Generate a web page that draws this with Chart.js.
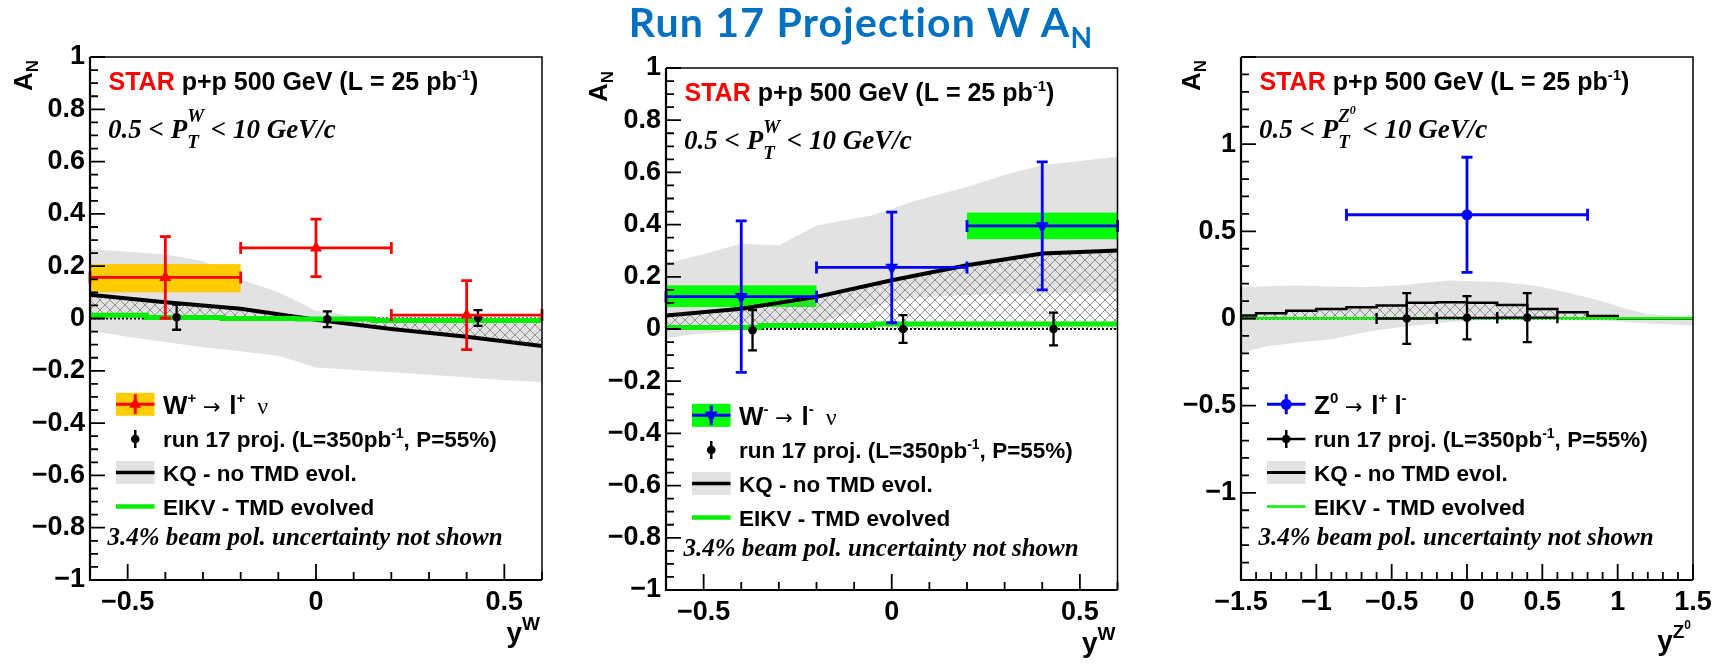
<!DOCTYPE html>
<html>
<head>
<meta charset="utf-8">
<script src="https://cdn.jsdelivr.net/npm/chart.js@4.4.1/dist/chart.umd.min.js"></script>
<style>
html,body{margin:0;padding:0;background:#fff;width:1722px;height:668px;overflow:hidden;}
#title{position:absolute;left:0;top:-1px;width:1722px;text-align:center;font-family:Lato,"Open Sans",sans-serif;font-weight:bold;font-size:41px;letter-spacing:1.2px;line-height:46px;color:#0070C0;z-index:5;}
#title sub{font-size:28px;vertical-align:-11px;line-height:0;}
.pan{position:absolute;top:0;height:668px;}
</style>
</head>
<body>
<div id="title">Run 17 Projection W A<sub>N</sub></div>
<div class="pan" style="left:0;width:575px"><canvas id="c1"></canvas></div>
<div class="pan" style="left:575px;width:575px"><canvas id="c2"></canvas></div>
<div class="pan" style="left:1150px;width:572px"><canvas id="c3"></canvas></div>
<script>
// ================= DATA =================
// ---- Panel 1 : W+ ----
const wpX = [-0.4, 0.0, 0.4];
const wpY = [0.157, 0.27, 0.013];
const wpXErr = [0.2, 0.2, 0.2];
const wpYErr = [0.156, 0.11, 0.132];
const wpSysLo = [0.100, null, null];
const wpSysHi = [0.208, null, null];
const proj1X = [-0.37, 0.03, 0.43];
const proj1Y = [0.005, -0.003, 0.002];
const proj1YErr = [0.048, 0.03, 0.03];
const kq1X = [-0.6, -0.4, -0.2, 0.0, 0.2, 0.4, 0.6];
const kq1Y = [0.091, 0.062, 0.037, -0.005, -0.04, -0.07, -0.105];
const band1X = [-0.6, -0.5, -0.4, -0.3, -0.2, -0.1, 0.0, 0.1, 0.2, 0.3, 0.4, 0.5, 0.6];
const band1Hi = [0.266, 0.255, 0.245, 0.22, 0.15, 0.10, 0.03, 0.01, 0.008, 0.005, 0.004, 0.002, 0.0];
const band1Lo = [-0.047, -0.07, -0.09, -0.11, -0.125, -0.142, -0.187, -0.197, -0.206, -0.215, -0.225, -0.235, -0.244];
const eikv1X = [-0.6, -0.45, -0.25, -0.05, 0.15, 0.25, 0.6];
const eikv1Y = [0.02, 0.012, 0.004, 0.0, -0.002, -0.008, -0.008];

// ---- Panel 2 : W- ----
const wmX = [-0.4, 0.0, 0.4];
const wmY = [0.124, 0.236, 0.395];
const wmXErr = [0.2, 0.2, 0.2];
const wmYErr = [0.29, 0.212, 0.245];
const wmSysLo = [0.084, null, 0.344];
const wmSysHi = [0.167, null, 0.446];
const proj2X = [-0.37, 0.03, 0.43];
const proj2Y = [-0.005, 0.0, 0.0];
const proj2YErr = [0.077, 0.053, 0.063];
const kq2X = [-0.6, -0.4, -0.2, 0.0, 0.2, 0.4, 0.6];
const kq2Y = [0.052, 0.078, 0.123, 0.187, 0.244, 0.289, 0.301];
const band2X = [-0.6, -0.53, -0.4, -0.3, -0.2, -0.05, 0.06, 0.2, 0.31, 0.4, 0.6];
const band2Hi = [0.25, 0.276, 0.327, 0.32, 0.397, 0.436, 0.49, 0.544, 0.595, 0.627, 0.66];
const band2Lo = [-0.035, -0.02, -0.008, 0.0, 0.02, 0.09, 0.12, 0.13, 0.135, 0.137, 0.14];
const eikv2X = [-0.6, -0.35, -0.05, 0.25, 0.6];
const eikv2Y = [0.0, 0.006, 0.013, 0.019, 0.019];

// ---- Panel 3 : Z0 ----
const zX = [0.0];
const zY = [0.595];
const zXErr = [0.8];
const zYErr = [0.33];
const proj3X = [-0.4, 0.0, 0.4];
const proj3Y = [0.0, 0.004, 0.005];
const proj3XErr = [0.2, 0.2, 0.2];
const proj3YErr = [0.145, 0.124, 0.14];
const kq3X = [-1.5, -1.4, -1.2, -1.0, -0.8, -0.6, -0.4, -0.2, 0.0, 0.2, 0.4, 0.6, 0.8, 1.0, 1.2, 1.5];
const kq3Y = [0.0, 0.017, 0.03, 0.045, 0.055, 0.065, 0.075, 0.09, 0.093, 0.09, 0.078, 0.055, 0.036, 0.015, 0.0, 0.0];
const band3X = [-1.5, -1.34, -1.11, -0.89, -0.67, -0.45, -0.12, 0.22, 0.44, 0.66, 0.88, 1.05, 1.2, 1.5];
const band3Hi = [0.18, 0.185, 0.19, 0.182, 0.18, 0.19, 0.218, 0.21, 0.19, 0.15, 0.103, 0.057, 0.025, 0.012];
const band3Lo = [-0.2, -0.16, -0.136, -0.117, -0.078, -0.05, -0.02, -0.005, -0.003, -0.003, -0.01, -0.02, -0.028, -0.04];
const eikv3X = [-1.5, 1.5];
const eikv3Y = [0.002, 0.002];

// ---- axes ----
const wRange = [-0.6, 0.6];
const zRange = [-1.5, 1.5];

// ================= STYLE =================
const RED = '#ff0000', BLUE = '#0000ff', GREEN = '#00ee00', BOXGREEN = '#00ff00', YEL = '#ffcc00', GRAY = '#e2e2e2';
const LF = '"Liberation Sans", Arial, sans-serif';
const SF = '"Liberation Serif", "Times New Roman", serif';

function pts(xs, ys) { return xs.map((x, i) => ({x: x, y: ys[i]})); }

function makeHatch() {
  const c = document.createElement('canvas'); c.width = 10; c.height = 10;
  const g = c.getContext('2d');
  g.strokeStyle = '#909090'; g.lineWidth = 1;
  g.beginPath();
  g.moveTo(0, 0); g.lineTo(10, 10);
  g.moveTo(10, 0); g.lineTo(0, 10);
  g.stroke();
  return g.createPattern(c, 'repeat');
}
const HATCH = makeHatch();

const errPlugin = {
  id: 'errbars',
  beforeDatasetDraw(chart, args) {
    const ds = chart.data.datasets[args.index];
    if (!ds.errY && !ds.errX) return;
    const ctx = chart.ctx, xs = chart.scales.x, ys = chart.scales.y;
    ctx.save();
    ctx.strokeStyle = ds.errColor; ctx.lineWidth = ds.errWidth;
    ds.data.forEach((p, i) => {
      const px = xs.getPixelForValue(p.x), py = ys.getPixelForValue(p.y);
      ctx.beginPath();
      if (ds.errY) {
        const t = ys.getPixelForValue(p.y + ds.errY[i]), b = ys.getPixelForValue(p.y - ds.errY[i]);
        const c = ds.capW;
        ctx.moveTo(px, t); ctx.lineTo(px, b);
        ctx.moveTo(px - c, t); ctx.lineTo(px + c, t);
        ctx.moveTo(px - c, b); ctx.lineTo(px + c, b);
      }
      if (ds.errX) {
        const l = xs.getPixelForValue(p.x - ds.errX[i]), r = xs.getPixelForValue(p.x + ds.errX[i]);
        const c = ds.capH;
        ctx.moveTo(l, py); ctx.lineTo(r, py);
        ctx.moveTo(l, py - c); ctx.lineTo(l, py + c);
        ctx.moveTo(r, py - c); ctx.lineTo(r, py + c);
      }
      ctx.stroke();
    });
    ctx.restore();
  },
  afterDatasetDraw(chart, args) {
    const ds = chart.data.datasets[args.index];
    if (!ds.boxes) return;
    const b = ds.boxes, ctx = chart.ctx, xs = chart.scales.x, ys = chart.scales.y;
    ctx.save();
    ctx.fillStyle = b.color;
    b.x.forEach((x, i) => {
      if (b.lo[i] === null) return;
      const l = xs.getPixelForValue(x - b.xerr[i]), r = xs.getPixelForValue(x + b.xerr[i]);
      const t = ys.getPixelForValue(b.hi[i]), bt = ys.getPixelForValue(b.lo[i]);
      ctx.fillRect(l, t, r - l, bt - t);
    });
    ctx.restore();
  }
};

function rich(ctx, x, y, segs) {
  let hold = x;
  for (const s of segs) {
    ctx.font = s.f; ctx.fillStyle = s.c || '#000';
    if (s.sync) x = Math.max(x, hold);
    ctx.fillText(s.t, x, y + (s.dy || 0));
    const w = ctx.measureText(s.t).width;
    if (s.reset) { hold = Math.max(hold, x + w); }
    else x += w + (s.dx || 0);
  }
  return x;
}
function richWidth(ctx, segs) {
  let w = 0;
  for (const s of segs) { ctx.font = s.f; w += ctx.measureText(s.t).width; }
  return w;
}

const decorPlugin = {
  id: 'decor',
  afterDatasetsDraw(chart) {
    const o = chart.options.plugins.decor;
    const ctx = chart.ctx, a = chart.chartArea, xs = chart.scales.x, ys = chart.scales.y;
    ctx.save();
    ctx.strokeStyle = '#000';
    ctx.lineWidth = 1.5;
    ctx.beginPath();
    ctx.moveTo(a.left, a.top); ctx.lineTo(a.right, a.top); ctx.lineTo(a.right, a.bottom);
    ctx.stroke();
    ctx.lineWidth = 2.2;
    ctx.beginPath();
    ctx.moveTo(a.left, a.top); ctx.lineTo(a.left, a.bottom); ctx.lineTo(a.right, a.bottom);
    ctx.stroke();
    ctx.lineWidth = 1.8;
    ctx.beginPath();
    let n = Math.round((ys.max - ys.min) / o.yMinor);
    for (let i = 0; i <= n; i++) {
      const v = ys.min + i * o.yMinor;
      const r = v / o.yMajor, major = Math.abs(r - Math.round(r)) < 1e-6;
      const py = ys.getPixelForValue(v);
      ctx.moveTo(a.left, py); ctx.lineTo(a.left + (major ? 15 : 8), py);
    }
    n = Math.round((xs.max - xs.min) / o.xMinor);
    for (let i = 0; i <= n; i++) {
      const v = xs.min + i * o.xMinor;
      const r = v / o.xMajor, major = Math.abs(r - Math.round(r)) < 1e-6;
      const px = xs.getPixelForValue(v);
      ctx.moveTo(px, a.bottom); ctx.lineTo(px, a.bottom - (major ? 16 : 8));
    }
    ctx.stroke();
    ctx.restore();
  },
  afterDraw(chart) {
    const o = chart.options.plugins.decor;
    const ctx = chart.ctx, a = chart.chartArea;
    ctx.save();
    ctx.textBaseline = 'alphabetic'; ctx.textAlign = 'left';
    rich(ctx, a.left + 18.5, a.top + 33.3, [
      {t: 'STAR', f: `bold 25px ${LF}`, c: RED},
      {t: ' p+p 500 GeV (L = 25 pb', f: `bold 25px ${LF}`},
      {t: '-1', f: `bold 15px ${LF}`, dy: -10},
      {t: ')', f: `bold 25px ${LF}`}
    ]);
    const PF = `italic bold 27px ${SF}`, PS = `italic bold 19px ${SF}`;
    const ptSegs = [{t: '0.5 < P', f: PF}, {t: 'T', f: PS, dy: 10, reset: true}];
    if (o.boson === 'Z') {
      ptSegs.push({t: 'Z', f: PS, dy: -16});
      ptSegs.push({t: '0', f: `italic bold 12px ${SF}`, dy: -24});
    } else {
      ptSegs.push({t: 'W', f: PS, dy: -16});
    }
    ptSegs.push({t: ' < 10 GeV/c', f: PF, sync: true});
    rich(ctx, a.left + 18, a.top + 81, ptSegs);

    const x0 = a.left + 26, x1 = a.left + 64.5, xc = (x0 + x1) / 2, tx = a.left + 73;
    const rows = [347.3, 382, 415.5, 449.5].map(v => a.top + v);
    const LFont = `bold 22.5px ${LF}`;
    const L = o.legend;
    if (L.box) { ctx.fillStyle = L.box; ctx.fillRect(x0, rows[0] - 11.5, x1 - x0, 23); }
    ctx.strokeStyle = L.color; ctx.lineWidth = 3;
    ctx.beginPath(); ctx.moveTo(x0, rows[0]); ctx.lineTo(x1, rows[0]);
    ctx.moveTo(xc, rows[0] - 10); ctx.lineTo(xc, rows[0] + 10); ctx.stroke();
    ctx.fillStyle = L.color;
    Chart.helpers.drawPoint(ctx, {pointStyle: L.marker, radius: L.r, rotation: L.rot, borderWidth: 0}, xc, rows[0]);
    rich(ctx, tx, rows[0] + 10, L.label);
    ctx.strokeStyle = '#000'; ctx.lineWidth = 2.5;
    ctx.beginPath();
    if (L.projLine) { ctx.moveTo(x0, rows[1]); ctx.lineTo(x1, rows[1]); }
    ctx.moveTo(xc, rows[1] - 9); ctx.lineTo(xc, rows[1] + 9); ctx.stroke();
    ctx.fillStyle = '#000';
    Chart.helpers.drawPoint(ctx, {pointStyle: 'circle', radius: 4.3, borderWidth: 0}, xc, rows[1]);
    rich(ctx, tx, rows[1] + 8, [
      {t: 'run 17 proj. (L=350pb', f: LFont},
      {t: '-1', f: `bold 14px ${LF}`, dy: -9},
      {t: ', P=55%)', f: LFont}
    ]);
    ctx.fillStyle = GRAY; ctx.fillRect(x0, rows[2] - 11.5, x1 - x0, 23);
    ctx.strokeStyle = '#000'; ctx.lineWidth = L.kqW;
    ctx.beginPath(); ctx.moveTo(x0, rows[2]); ctx.lineTo(x1, rows[2]); ctx.stroke();
    rich(ctx, tx, rows[2] + 8, [{t: 'KQ - no TMD evol.', f: LFont}]);
    ctx.strokeStyle = GREEN; ctx.lineWidth = L.eikvW;
    ctx.beginPath(); ctx.moveTo(x0, rows[3]); ctx.lineTo(x1, rows[3]); ctx.stroke();
    rich(ctx, tx, rows[3] + 8, [{t: 'EIKV - TMD evolved', f: LFont}]);
    rich(ctx, a.left + 17.5, a.top + 479.5 + 8, [{t: '3.4% beam pol. uncertainty not shown', f: `italic bold 25px ${SF}`}]);

    ctx.save();
    ctx.translate(a.left + o.yTitleDx, a.top + 3);
    ctx.rotate(-Math.PI / 2);
    const ySegs = [{t: 'A', f: `bold 26px ${LF}`}, {t: 'N', f: `bold 17px ${LF}`, dy: 6}];
    const yw = richWidth(ctx, ySegs);
    rich(ctx, -yw, 0, ySegs);
    ctx.restore();
    const xSegs = [{t: 'y', f: `bold 28px ${LF}`}, {t: o.boson === 'Z' ? 'Z' : 'W', f: `bold 19px ${LF}`, dy: -12}];
    if (o.boson === 'Z') xSegs.push({t: '0', f: `bold 12px ${LF}`, dy: -21});
    const xw = richWidth(ctx, xSegs);
    rich(ctx, a.right - 2 - xw, a.bottom + o.xTitleDy, xSegs);
    ctx.restore();
  }
};

function fmt(v) {
  const s = (Math.round(v * 1000) / 1000).toString();
  return s.replace('-', '\u2212');
}

function makeChart(id, spec) {
  const tickFont = {family: LF, size: 27, weight: 'bold'};
  return new Chart(document.getElementById(id), {
    type: 'line',
    data: {datasets: spec.datasets},
    options: {
      responsive: true, maintainAspectRatio: false, animation: false,
      layout: {padding: spec.padding},
      plugins: {legend: {display: false}, tooltip: {enabled: false}, decor: spec.decor},
      elements: {line: {tension: 0}},
      scales: {
        x: {
          type: 'linear', min: spec.xr[0], max: spec.xr[1],
          grid: {display: false, drawTicks: false}, border: {display: false},
          ticks: {stepSize: spec.xStep, includeBounds: false, font: tickFont, color: '#000', padding: 6,
                  maxRotation: 0, autoSkip: false, callback: v => fmt(v)},
          afterFit: s => { s.height = 60; }
        },
        y: {
          type: 'linear', min: spec.yr[0], max: spec.yr[1],
          grid: {display: false, drawTicks: false}, border: {display: false},
          ticks: {stepSize: spec.yStep, includeBounds: false, font: tickFont, color: '#000', padding: 5,
                  autoSkip: false, callback: spec.yFmt || (v => fmt(v))},
          afterFit: s => { s.width = spec.yw; }
        }
      }
    },
    plugins: [errPlugin, decorPlugin]
  });
}

function panelDatasets(p) {
  return [
    {label: 'data', data: pts(p.dx, p.dy), showLine: false, order: 1,
     pointStyle: p.marker, pointRadius: p.mr, pointRotation: p.mrot || 0,
     pointBackgroundColor: p.color, pointBorderColor: p.color, pointBorderWidth: 0,
     errX: p.dxe, errY: p.dye, errColor: p.color, errWidth: 2.8, capW: 5.5, capH: 6},
    {label: 'proj', data: pts(p.px, p.py), showLine: false, order: 2,
     pointStyle: 'circle', pointRadius: 4.3, pointBackgroundColor: '#000', pointBorderColor: '#000', pointBorderWidth: 0,
     errX: p.pxe, errY: p.pye, errColor: '#000', errWidth: 2.3, capW: 4.5, capH: 5.5},
    {label: 'EIKV', data: pts(p.ex, p.ey), borderColor: GREEN, borderWidth: p.eikvW, pointRadius: 0,
     stepped: 'after', fill: false, order: 4},
    {label: 'KQ', data: pts(p.kx, p.ky), borderColor: '#000', borderWidth: p.kqW, pointRadius: 0,
     stepped: p.kqStep || false, fill: false, order: 5},
    {label: 'zero', data: pts(p.xr, [0, 0]), borderColor: '#000', borderWidth: 2, borderDash: [2, 2],
     pointRadius: 0, fill: false, order: 6},
    {label: 'KQ hatch', data: pts(p.kx, p.ky), borderWidth: 0, borderColor: 'rgba(0,0,0,0)', pointRadius: 0,
     stepped: p.kqStep || false, fill: {value: 0}, backgroundColor: HATCH, order: 7},
    {label: 'band hi', data: pts(p.bx, p.bhi), borderWidth: 0, borderColor: 'rgba(0,0,0,0)', pointRadius: 0,
     fill: '+1', backgroundColor: GRAY, order: 9, boxes: p.boxes},
    {label: 'band lo', data: pts(p.bx, p.blo), borderWidth: 0, borderColor: 'rgba(0,0,0,0)', pointRadius: 0,
     fill: false, order: 10}
  ];
}

const W1 = `bold 26px ${LF}`, WS = `bold 15px ${LF}`;

makeChart('c1', {
  xr: wRange, yr: [-1, 1], xStep: 0.5, yStep: 0.2, yw: 90,
  padding: {left: 0, top: 57, right: 33, bottom: 28},
  decor: {yMinor: 0.05, yMajor: 0.2, xMinor: 0.1, xMajor: 0.5, boson: 'W', yTitleDx: -58.3, xTitleDy: 61.7,
    legend: {box: YEL, color: RED, marker: 'triangle', r: 7, rot: 0, projLine: false, kqW: 3.5, eikvW: 4.5,
      label: [{t: 'W', f: W1}, {t: '+', f: WS, dy: -11},
              {t: ' \u2192 ', f: `21px "DejaVu Sans"`, dx: 2}, {t: 'l', f: W1},
              {t: '+', f: WS, dy: -11}, {t: '  \u03bd', f: `24px ${SF}`}]}},
  datasets: panelDatasets({
    dx: wpX, dy: wpY, dxe: wpXErr, dye: wpYErr, color: RED, marker: 'triangle', mr: 7,
    px: proj1X, py: proj1Y, pxe: null, pye: proj1YErr,
    ex: eikv1X, ey: eikv1Y, eikvW: 5,
    kx: kq1X, ky: kq1Y, kqW: 4,
    bx: band1X, bhi: band1Hi, blo: band1Lo, xr: wRange,
    boxes: {x: wpX, xerr: wpXErr, lo: wpSysLo, hi: wpSysHi, color: YEL}
  })
});

makeChart('c2', {
  xr: wRange, yr: [-1, 1], xStep: 0.5, yStep: 0.2, yw: 90,
  padding: {left: 1, top: 68, right: 32.5, bottom: 18},
  decor: {yMinor: 0.05, yMajor: 0.2, xMinor: 0.1, xMajor: 0.5, boson: 'W', yTitleDx: -58.7, xTitleDy: 61.7,
    legend: {box: BOXGREEN, color: BLUE, marker: 'triangle', r: 7.5, rot: 180, projLine: false, kqW: 3.5, eikvW: 4.5,
      label: [{t: 'W', f: W1}, {t: '-', f: WS, dy: -11},
              {t: ' \u2192 ', f: `21px "DejaVu Sans"`, dx: 2}, {t: 'l', f: W1},
              {t: '-', f: WS, dy: -11}, {t: '  \u03bd', f: `24px ${SF}`}]}},
  datasets: panelDatasets({
    dx: wmX, dy: wmY, dxe: wmXErr, dye: wmYErr, color: BLUE, marker: 'triangle', mr: 7.5, mrot: 180,
    px: proj2X, py: proj2Y, pxe: null, pye: proj2YErr,
    ex: eikv2X, ey: eikv2Y, eikvW: 5,
    kx: kq2X, ky: kq2Y, kqW: 4,
    bx: band2X, bhi: band2Hi, blo: band2Lo, xr: wRange,
    boxes: {x: wmX, xerr: wmXErr, lo: wmSysLo, hi: wmSysHi, color: BOXGREEN}
  })
});

makeChart('c3', {
  xr: zRange, yr: [-1.5, 1.5], xStep: 0.5, yStep: 0.5, yw: 91,
  padding: {left: 0, top: 57, right: 29, bottom: 28},
  yFmt: v => (Math.abs(Math.abs(v) - 1.5) < 1e-6 ? '' : fmt(v)),
  decor: {yMinor: 0.1, yMajor: 0.5, xMinor: 0.1, xMajor: 0.5, boson: 'Z', yTitleDx: -41, xTitleDy: 70,
    legend: {box: null, color: BLUE, marker: 'circle', r: 5.5, rot: 0, projLine: true, kqW: 3, eikvW: 2.5,
      label: [{t: 'Z', f: W1}, {t: '0', f: WS, dy: -11},
              {t: ' \u2192 ', f: `21px "DejaVu Sans"`, dx: 2}, {t: 'l', f: W1},
              {t: '+', f: WS, dy: -11}, {t: ' l', f: W1},
              {t: '-', f: WS, dy: -11}]}},
  datasets: panelDatasets({
    dx: zX, dy: zY, dxe: zXErr, dye: zYErr, color: BLUE, marker: 'circle', mr: 5.5,
    px: proj3X, py: proj3Y, pxe: proj3XErr, pye: proj3YErr,
    ex: eikv3X, ey: eikv3Y, eikvW: 2.5,
    kx: kq3X, ky: kq3Y, kqW: 2.5, kqStep: 'after',
    bx: band3X, bhi: band3Hi, blo: band3Lo, xr: zRange,
    boxes: null
  })
});
</script>
</body>
</html>
